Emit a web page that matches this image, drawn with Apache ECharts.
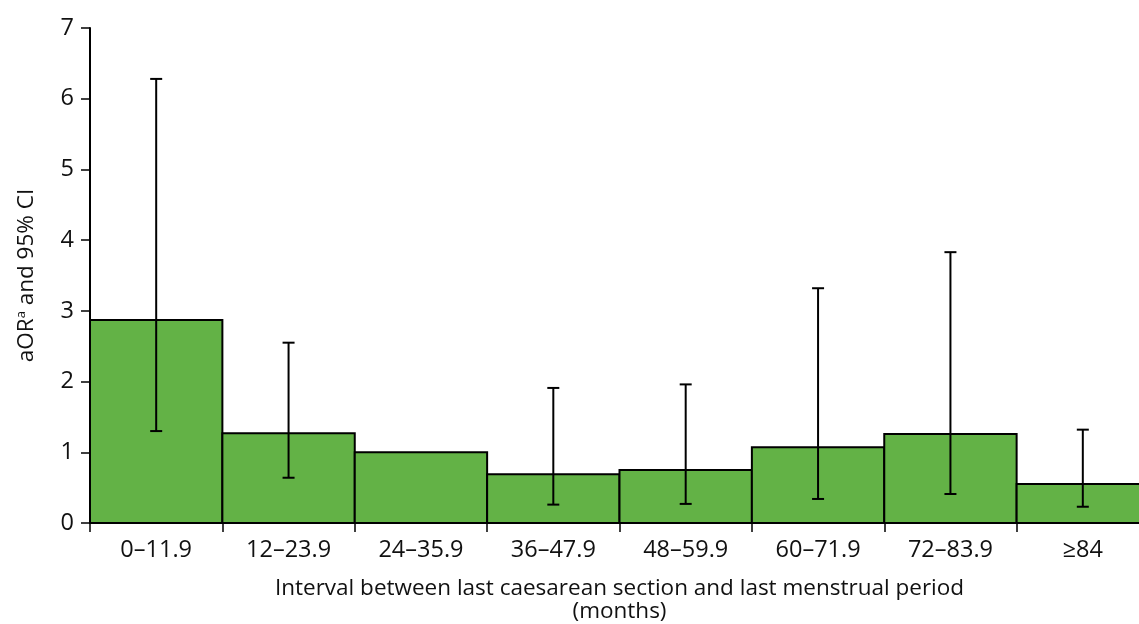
<!DOCTYPE html>
<html><head><meta charset="utf-8">
<script src="https://cdn.jsdelivr.net/npm/echarts@6/dist/echarts.min.js"></script>
<style>html,body{margin:0;padding:0;background:#fff}#c{width:1139px;height:624px}</style>
</head><body><div id="c"></div>
<script>
const categories = ['0–11.9','12–23.9','24–35.9','36–47.9','48–59.9','60–71.9','72–83.9','≥84'];
const aor = [2.87, 1.27, 1.00, 0.69, 0.75, 1.07, 1.26, 0.55];
const ciLow = [1.30, 0.64, null, 0.26, 0.27, 0.34, 0.41, 0.23];
const ciHigh = [6.28, 2.55, null, 1.91, 1.96, 3.32, 3.83, 1.32];
const yTicks = [0,1,2,3,4,5,6,7];

const barData = aor.map((v,i)=>[i, v]);
const errData = categories.map((c,i)=>[i, ciLow[i], ciHigh[i]]).filter(d=>d[1]!=null);
const font = '"Open Sans", "Noto Sans", sans-serif';
const chart = echarts.init(document.getElementById('c'));
chart.setOption({
  animation:false,
  grid:{left:90, top:28, bottom:101, right:-10, containLabel:false, outerBoundsMode:'none'},
  xAxis:{
    type:'category', data:categories,
    axisLine:{lineStyle:{color:'#000', width:2}},
    axisTick:{show:true, length:9, lineStyle:{color:'#000', width:1.5}, alignWithLabel:false},
    axisLabel:{color:'#111', fontSize:23.5, fontFamily:font, margin:15},
    name:'Interval between last caesarean section and last menstrual period\n(months)',
    nameLocation:'middle', nameGap:54,
    nameTextStyle:{color:'#111', fontSize:22.5, fontFamily:font, lineHeight:23, verticalAlign:'top'}
  },
  yAxis:{
    type:'value', min:0, max:7, interval:1,
    axisLine:{show:true, lineStyle:{color:'#000', width:2}},
    axisTick:{show:true, length:9, lineStyle:{color:'#000', width:1.5}},
    splitLine:{show:false},
    axisLabel:{color:'#111', fontSize:23.5, fontFamily:font, margin:16,
      formatter:v=> yTicks.includes(v)? String(v):''},
    name:'{t|aOR}{s|a}{t| and 95% CI}',
    nameLocation:'middle', nameGap:52, nameRotate:90,
    nameTextStyle:{rich:{
      t:{color:'#111', fontSize:22.5, fontFamily:font},
      s:{color:'#111', fontSize:13, fontFamily:font, verticalAlign:'top', padding:[0,0,10,0]}
    }}
  },
  series:[
    {type:'custom', data:barData, z:2,
     renderItem:(params, api)=>{
       const x = api.value(0);
       const top = api.coord([x, api.value(1)]);
       const base = api.coord([x, 0]);
       const bw = api.size([1,0])[0];
       return {type:'rect', shape:{x:top[0]-bw/2, y:top[1], width:bw, height:base[1]-top[1]},
         style:{fill:'#63b246', stroke:'#000', lineWidth:2}};
     }},
    {type:'custom', data:errData, z:10,
     renderItem:(params, api)=>{
       const x = api.value(0);
       const lo = api.coord([x, api.value(1)]);
       const hi = api.coord([x, api.value(2)]);
       const w = 6;
       const st = {stroke:'#000', lineWidth:2};
       return {type:'group', children:[
         {type:'line', shape:{x1:lo[0], y1:lo[1], x2:hi[0], y2:hi[1]}, style:st},
         {type:'line', shape:{x1:lo[0]-w, y1:lo[1], x2:lo[0]+w, y2:lo[1]}, style:st},
         {type:'line', shape:{x1:hi[0]-w, y1:hi[1], x2:hi[0]+w, y2:hi[1]}, style:st}
       ]};
     }}
  ]
});
</script></body></html>
